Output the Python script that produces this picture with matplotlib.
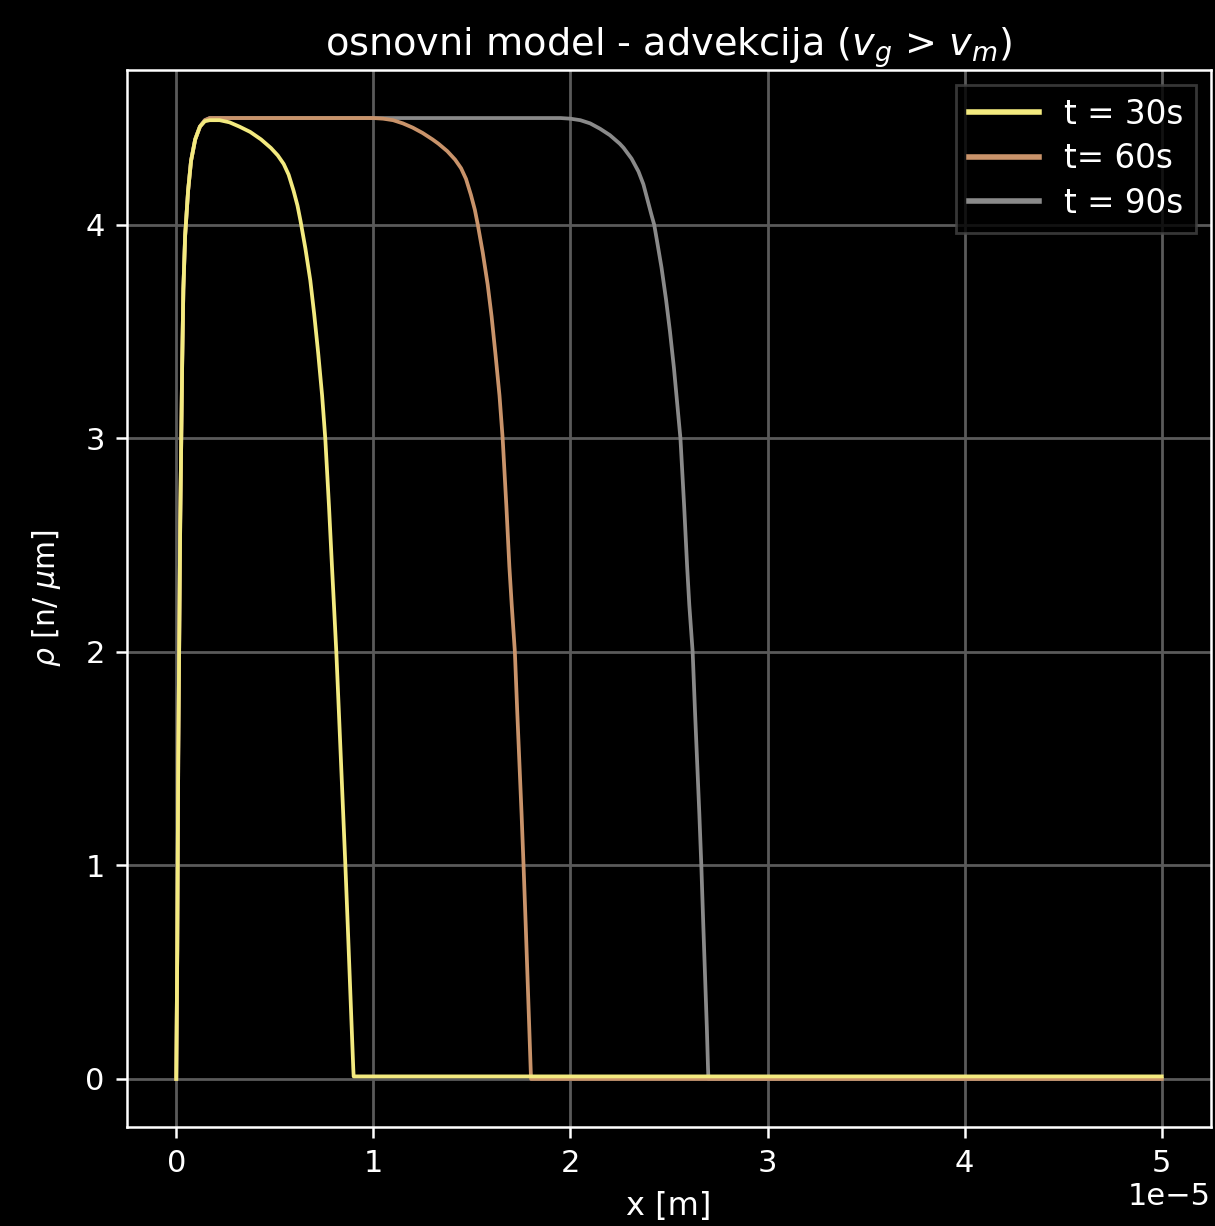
import matplotlib
matplotlib.use("Agg")
import matplotlib.pyplot as plt

plt.style.use("dark_background")

labels = ["t = 30s", "t= 60s", "t = 90s"]
colors = ["#f3ea7f", "#c9936a", "#8a8a8a"]

# t = 30 s  (x in metres)
x30 = [0.0, 0.005e-5, 0.01e-5, 0.02e-5, 0.03e-5, 0.036e-5, 0.045e-5, 0.06e-5, 0.075e-5,
       0.096e-5, 0.12e-5, 0.145e-5, 0.17e-5, 0.22e-5, 0.27e-5, 0.32e-5, 0.375e-5,
       0.43e-5, 0.48e-5, 0.515e-5, 0.545e-5, 0.57e-5, 0.595e-5, 0.615e-5, 0.63e-5,
       0.655e-5, 0.68e-5, 0.70e-5, 0.72e-5, 0.74e-5, 0.756e-5, 0.775e-5, 0.79e-5,
       0.80e-5, 0.812e-5, 0.825e-5, 0.836e-5, 0.847e-5, 0.858e-5, 0.87e-5, 0.88e-5,
       0.89e-5, 0.898e-5, 0.90e-5, 5.0e-5]
y30 = [0.0, 0.6, 1.5, 2.6, 3.35, 3.7, 3.95, 4.16, 4.30,
       4.40, 4.46, 4.485, 4.49, 4.49, 4.48, 4.46, 4.435,
       4.40, 4.36, 4.325, 4.285, 4.235, 4.16, 4.09, 4.02,
       3.89, 3.74, 3.58, 3.40, 3.20, 3.0, 2.68, 2.40,
       2.22, 2.0, 1.72, 1.48, 1.24, 1.0, 0.72, 0.48,
       0.24, 0.05, 0.012, 0.012]

# t = 60 s
x60 = [0.0, 0.005e-5, 0.01e-5, 0.02e-5, 0.03e-5, 0.036e-5, 0.045e-5, 0.06e-5, 0.075e-5,
       0.096e-5, 0.12e-5, 0.145e-5, 0.17e-5, 1.0e-5, 1.05e-5, 1.1e-5, 1.15e-5, 1.2e-5,
       1.25e-5, 1.30e-5, 1.33e-5, 1.375e-5, 1.415e-5, 1.445e-5, 1.47e-5, 1.495e-5,
       1.515e-5, 1.53e-5, 1.555e-5, 1.58e-5, 1.60e-5, 1.62e-5, 1.64e-5, 1.656e-5,
       1.675e-5, 1.69e-5, 1.702e-5, 1.718e-5, 1.73e-5, 1.741e-5, 1.752e-5, 1.762e-5,
       1.773e-5, 1.782e-5, 1.791e-5, 1.798e-5, 1.80e-5, 5.0e-5]
y60 = [0.0, 0.6, 1.5, 2.6, 3.35, 3.7, 3.95, 4.16, 4.30,
       4.40, 4.46, 4.49, 4.50, 4.50, 4.497, 4.49, 4.475, 4.455,
       4.43, 4.40, 4.38, 4.345, 4.305, 4.265, 4.215, 4.14,
       4.07, 4.0, 3.87, 3.72, 3.57, 3.39, 3.20, 3.0,
       2.68, 2.40, 2.22, 2.0, 1.72, 1.48, 1.24, 1.0,
       0.72, 0.48, 0.24, 0.05, 0.0, 0.0]

# t = 90 s
x90 = [0.0, 0.005e-5, 0.01e-5, 0.02e-5, 0.03e-5, 0.036e-5, 0.045e-5, 0.06e-5, 0.075e-5,
       0.096e-5, 0.12e-5, 0.145e-5, 0.17e-5, 1.95e-5, 2.0e-5, 2.05e-5, 2.1e-5, 2.15e-5,
       2.2e-5, 2.25e-5, 2.27e-5, 2.31e-5, 2.345e-5, 2.37e-5, 2.39e-5, 2.41e-5,
       2.425e-5, 2.44e-5, 2.462e-5, 2.485e-5, 2.505e-5, 2.525e-5, 2.543e-5, 2.558e-5,
       2.577e-5, 2.592e-5, 2.603e-5, 2.62e-5, 2.632e-5, 2.643e-5, 2.654e-5, 2.664e-5,
       2.674e-5, 2.683e-5, 2.692e-5, 2.698e-5, 2.70e-5, 5.0e-5]
y90 = [0.0, 0.6, 1.5, 2.6, 3.35, 3.7, 3.95, 4.16, 4.30,
       4.40, 4.46, 4.49, 4.50, 4.50, 4.497, 4.49, 4.475, 4.45,
       4.42, 4.38, 4.36, 4.31, 4.25, 4.19, 4.12, 4.05,
       4.0, 3.92, 3.80, 3.65, 3.50, 3.33, 3.15, 3.0,
       2.68, 2.40, 2.22, 2.0, 1.72, 1.48, 1.24, 1.0,
       0.72, 0.48, 0.24, 0.05, 0.0, 0.0]

xs = [x30, x60, x90]
ys = [y30, y60, y90]

fig = plt.figure(figsize=(12.15, 12.26), dpi=100)
ax = fig.add_axes([127 / 1215, 99 / 1226, 1084 / 1215, 1057 / 1226])
ax.set_facecolor("black")
fig.patch.set_facecolor("black")

handles = [None] * 3
for i in [2, 1, 0]:
    (h,) = ax.plot(xs[i], ys[i], color=colors[i], lw=2.7, label=labels[i])
    handles[i] = h

ax.grid(True, color="#5a5a5a", lw=2)
ax.set_axisbelow(True)
for s in ax.spines.values():
    s.set_color("white")
    s.set_linewidth(1.8)

ax.set_yticks([0, 1, 2, 3, 4])
ax.tick_params(labelsize=22, width=1.8, length=8, pad=8, colors="white")
ax.xaxis.get_offset_text().set_fontsize(22)

ax.set_title(r"osnovni model - advekcija ($v_g$ > $v_m$)", fontsize=27.5, pad=9)
ax.set_xlabel("x [m]", fontsize=23, labelpad=9)
ax.set_ylabel(r"$\rho$ [n/ $\mu$m]", fontsize=21.5, labelpad=16)

leg = ax.legend(handles, labels, loc="upper right", fontsize=23.5,
                frameon=True, facecolor="black", edgecolor="#444444",
                handlelength=2.15, handletextpad=0.75, borderaxespad=0.45,
                labelspacing=0.35, fancybox=False)
leg.get_frame().set_linewidth(2)
for lh in leg.get_lines():
    lh.set_linewidth(4)

fig.savefig("out.png", dpi=100, facecolor="black")
